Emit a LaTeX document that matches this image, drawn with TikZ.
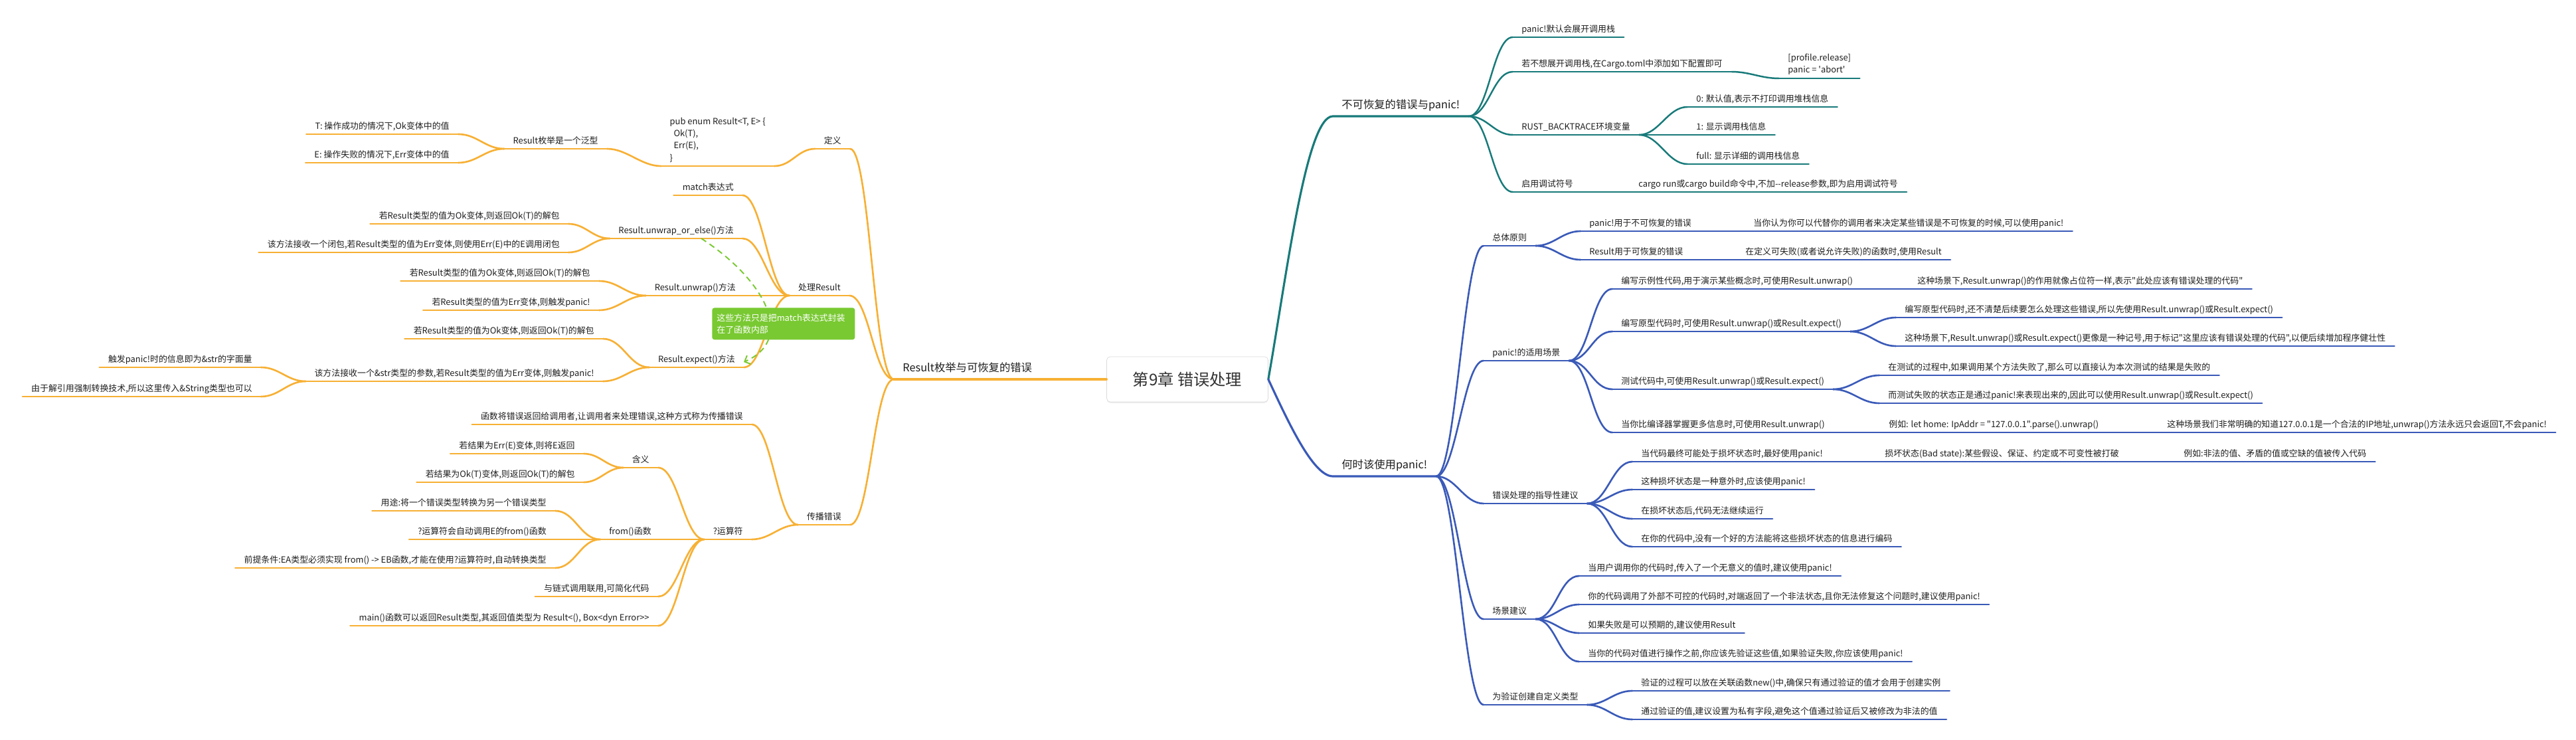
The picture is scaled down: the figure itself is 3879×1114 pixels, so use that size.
\documentclass[tikz,border=0pt]{standalone}
\usepackage{fontspec}
\setmainfont{Noto Sans CJK SC}[Ligatures=TeXOff]
\usepackage{xcolor}
\usepackage{tikz}
\usetikzlibrary{arrows.meta}
\usetikzlibrary{shadows}
\definecolor{branchorange}{RGB}{247,176,52}
\definecolor{branchteal}{RGB}{24,122,122}
\definecolor{branchblue}{RGB}{58,90,184}
\definecolor{noteGreen}{RGB}{121,201,50}
\definecolor{inkgray}{RGB}{30,30,30}
\newcommand{\mmfont}{\fontsize{7.35}{10.4}\selectfont}
\newcommand{\mmbigfont}{\fontsize{9.3}{12}\selectfont}
\newcommand{\mmtitlefont}{\fontsize{13.8}{16}\selectfont}

\begin{document}
\begin{tikzpicture}[x=0.02cm,y=-0.02cm,
    topic/.style={inner xsep=7.4pt, inner ysep=3pt, text height=6.5pt, text depth=1.3pt, font=\mmfont, text=inkgray},
    left node/.style={topic, anchor=south east},
    right node/.style={topic, anchor=south west},
    block node/.style={inner xsep=7.4pt, inner ysep=3pt, align=left, font=\mmfont, text=inkgray},
    main topic/.style={anchor=south west, inner xsep=7.4pt, inner ysep=4.5pt, text height=8.2pt, text depth=1.7pt, font=\mmbigfont, text=inkgray},
    center node/.style={draw=black!14, fill=white, rounded corners=3pt, minimum width=4.86cm, minimum height=1.36cm, font=\mmtitlefont, text=black!80, drop shadow={opacity=0.15, shadow xshift=0pt, shadow yshift=-1pt}},
    callout node/.style={anchor=north west, fill=noteGreen, rounded corners=2pt, text=white, font=\mmfont, align=left, text width=4.02cm, inner xsep=0.14cm, minimum height=0.96cm},
    lbranch/.style={out=180, in=0, max distance=0.6cm},
    rbranch/.style={out=0, in=180, max distance=0.6cm},
    orange line/.style={color=branchorange, line width=1.5pt, line cap=round, every edge/.style={draw, lbranch}},
    teal line/.style={color=branchteal, line width=1.4pt, line cap=round, every edge/.style={draw, rbranch}},
    blue line/.style={color=branchblue, line width=1.5pt, line cap=round, every edge/.style={draw, rbranch}},
    relation line/.style={draw=noteGreen, line width=1.1pt, dash pattern=on 5pt off 3.5pt, -{Straight Barb[length=4pt,width=8pt]}}]
    \useasboundingbox (0,0) rectangle (3879,1114);

    % Center
    \node[center node] (center) at (1788,571) {第9章 错误处理};

    % Left: Result
    \node[main topic] (res) at (1346,571) {Result枚举与可恢复的错误};
    \node[left node] (def) at (1280,224) {定义};
    \node[block node, anchor=south east] (enumdef) at (1166,250) {pub enum Result<T, E> \{\\\ \ Ok(T),\\\ \ Err(E),\\\}};
    \node[left node] (generic) at (914,224) {Result枚举是一个泛型};
    \node[left node] (tval) at (690,202) {T: 操作成功的情况下,Ok变体中的值};
    \node[left node] (eval) at (690,245) {E: 操作失败的情况下,Err变体中的值};
    \node[left node] (handle) at (1279,445) {处理Result};
    \node[left node] (matchexpr) at (1118,294) {match表达式};
    \node[left node] (orelse) at (1118,359) {Result.unwrap\_or\_else()方法};
    \node[left node] (orelseok) at (856,337) {若Result类型的值为Ok变体,则返回Ok(T)的解包};
    \node[left node] (orelseerr) at (856,380) {该方法接收一个闭包,若Result类型的值为Err变体,则使用Err(E)中的E调用闭包};
    \node[left node] (unwrap) at (1121,445) {Result.unwrap()方法};
    \node[left node] (unwrapok) at (902,423) {若Result类型的值为Ok变体,则返回Ok(T)的解包};
    \node[left node] (unwraperr) at (902,467) {若Result类型的值为Err变体,则触发panic!};
    \node[left node] (expect) at (1120,553) {Result.expect()方法};
    \node[left node] (expectok) at (908,510) {若Result类型的值为Ok变体,则返回Ok(T)的解包};
    \node[left node] (expectarg) at (908,574) {该方法接收一个\&str类型的参数,若Result类型的值为Err变体,则触发panic!};
    \node[left node] (strlit) at (393,553) {触发panic!时的信息即为\&str的字面量};
    \node[left node] (derefstr) at (393,597) {由于解引用强制转换技术,所以这里传入\&String类型也可以};
    \node[left node] (propagate) at (1280,790) {传播错误};
    \node[left node] (propdef) at (1132,639) {函数将错误返回给调用者,让调用者来处理错误,这种方式称为传播错误};
    \node[left node] (qop) at (1132,812) {?运算符};
    \node[left node] (meaning) at (991,704) {含义};
    \node[left node] (errret) at (879,683) {若结果为Err(E)变体,则将E返回};
    \node[left node] (okunwrap) at (879,726) {若结果为Ok(T)变体,则返回Ok(T)的解包};
    \node[left node] (fromfn) at (994,812) {from()函数};
    \node[left node] (fromuse) at (836,769) {用途:将一个错误类型转换为另一个错误类型};
    \node[left node] (fromauto) at (836,812) {?运算符会自动调用E的from()函数};
    \node[left node] (fromcond) at (836,855) {前提条件:EA类型必须实现 from() -> EB函数,才能在使用?运算符时,自动转换类型};
    \node[left node] (chain) at (991,898) {与链式调用联用,可简化代码};
    \node[left node] (mainret) at (991,942) {main()函数可以返回Result类型,其返回值类型为 Result<(), Box<dyn Error>>};

    % Right: panic!
    \node[main topic] (panic) at (2007,175) {不可恢复的错误与panic!};
    \node[right node] (unwind) at (2278,56) {panic!默认会展开调用栈};
    \node[right node] (nounwind) at (2278,108) {若不想展开调用栈,在Cargo.toml中添加如下配置即可};
    \node[block node, anchor=south west] (abortcfg) at (2679,118) {[profile.release]\\panic = 'abort'};
    \node[right node] (backtrace) at (2278,203) {RUST\_BACKTRACE环境变量};
    \node[right node] (bt0) at (2541,161) {0: 默认值,表示不打印调用堆栈信息};
    \node[right node] (bt1) at (2541,203) {1: 显示调用栈信息};
    \node[right node] (btfull) at (2541,247) {full: 显示详细的调用栈信息};
    \node[right node] (debugsym) at (2278,289) {启用调试符号};
    \node[right node] (cargorun) at (2454,289) {cargo run或cargo build命令中,不加--release参数,即为启用调试符号};

    % Right: when to panic
    \node[main topic] (when) at (2007,717) {何时该使用panic!};
    \node[right node] (principle) at (2234,370) {总体原则};
    \node[right node] (panicfor) at (2380,348) {panic!用于不可恢复的错误};
    \node[right node] (panicwhen) at (2627,348) {当你认为你可以代替你的调用者来决定某些错误是不可恢复的时候,可以使用panic!};
    \node[right node] (resultfor) at (2380,391) {Result用于可恢复的错误};
    \node[right node] (resultwhen) at (2615,391) {在定义可失败(或者说允许失败)的函数时,使用Result};
    \node[right node] (scenes) at (2234,543) {panic!的适用场景};
    \node[right node] (example) at (2428,435) {编写示例性代码,用于演示某些概念时,可使用Result.unwrap()};
    \node[right node] (placeholder) at (2874,435) {这种场景下,Result.unwrap()的作用就像占位符一样,表示"此处应该有错误处理的代码"};
    \node[right node] (proto) at (2428,499) {编写原型代码时,可使用Result.unwrap()或Result.expect()};
    \node[right node] (protoa) at (2855,478) {编写原型代码时,还不清楚后续要怎么处理这些错误,所以先使用Result.unwrap()或Result.expect()};
    \node[right node] (protob) at (2855,521) {这种场景下,Result.unwrap()或Result.expect()更像是一种记号,用于标记"这里应该有错误处理的代码",以便后续增加程序健壮性};
    \node[right node] (test) at (2428,586) {测试代码中,可使用Result.unwrap()或Result.expect()};
    \node[right node] (testa) at (2830,565) {在测试的过程中,如果调用某个方法失败了,那么可以直接认为本次测试的结果是失败的};
    \node[right node] (testb) at (2830,607) {而测试失败的状态正是通过panic!来表现出来的,因此可以使用Result.unwrap()或Result.expect()};
    \node[right node] (moreinfo) at (2428,651) {当你比编译器掌握更多信息时,可使用Result.unwrap()};
    \node[right node] (ipex) at (2831,651) {例如: let home: IpAddr = "127.0.0.1".parse().unwrap()};
    \node[right node] (ipsure) at (3250,651) {这种场景我们非常明确的知道127.0.0.1是一个合法的IP地址,unwrap()方法永远只会返回T,不会panic!};
    \node[right node] (guide) at (2234,758) {错误处理的指导性建议};
    \node[right node] (badstate) at (2458,695) {当代码最终可能处于损坏状态时,最好使用panic!};
    \node[right node] (baddef) at (2825,695) {损坏状态(Bad state):某些假设、保证、约定或不可变性被打破};
    \node[right node] (badex) at (3275,695) {例如:非法的值、矛盾的值或空缺的值被传入代码};
    \node[right node] (accident) at (2458,737) {这种损坏状态是一种意外时,应该使用panic!};
    \node[right node] (cannotrun) at (2458,781) {在损坏状态后,代码无法继续运行};
    \node[right node] (noencode) at (2458,823) {在你的代码中,没有一个好的方法能将这些损坏状态的信息进行编码};
    \node[right node] (advice) at (2234,932) {场景建议};
    \node[right node] (meaningless) at (2378,867) {当用户调用你的代码时,传入了一个无意义的值时,建议使用panic!};
    \node[right node] (external) at (2378,910) {你的代码调用了外部不可控的代码时,对端返回了一个非法状态,且你无法修复这个问题时,建议使用panic!};
    \node[right node] (expected) at (2378,953) {如果失败是可以预期的,建议使用Result};
    \node[right node] (validate) at (2378,996) {当你的代码对值进行操作之前,你应该先验证这些值,如果验证失败,你应该使用panic!};
    \node[right node] (customtype) at (2234,1061) {为验证创建自定义类型};
    \node[right node] (newfn) at (2458,1040) {验证的过程可以放在关联函数new()中,确保只有通过验证的值才会用于创建实例};
    \node[right node] (privfield) at (2458,1083) {通过验证的值,建议设置为私有字段,避免这个值通过验证后又被修改为非法的值};

    % Orange branch
    \begin{scope}[orange line]
        \draw[line width=1.9pt] (res.south west) -- (res.south east) -- (center.west);
        \foreach \n in {def,enumdef,generic,tval,eval,handle,matchexpr,orelse,orelseok,orelseerr,unwrap,unwrapok,unwraperr,expect,expectok,expectarg,strlit,derefstr,propagate,propdef,qop,meaning,errret,okunwrap,fromfn,fromuse,fromauto,fromcond,chain,mainret}
            \draw (\n.south west) -- (\n.south east);
        \path
        (res.south west)
        edge (def.south east)
        edge (handle.south east)
        edge (propagate.south east)
        (def.south west) edge (enumdef.south east)
        (enumdef.south west) edge (generic.south east)
        (generic.south west)
        edge (tval.south east)
        edge (eval.south east)
        (handle.south west)
        edge (matchexpr.south east)
        edge (orelse.south east)
        edge (unwrap.south east)
        edge (expect.south east)
        (orelse.south west)
        edge (orelseok.south east)
        edge (orelseerr.south east)
        (unwrap.south west)
        edge (unwrapok.south east)
        edge (unwraperr.south east)
        (expect.south west)
        edge (expectok.south east)
        edge (expectarg.south east)
        (expectarg.south west)
        edge (strlit.south east)
        edge (derefstr.south east)
        (propagate.south west)
        edge (propdef.south east)
        edge (qop.south east)
        (qop.south west)
        edge (meaning.south east)
        edge (fromfn.south east)
        edge (chain.south east)
        edge (mainret.south east)
        (meaning.south west)
        edge (errret.south east)
        edge (okunwrap.south east)
        (fromfn.south west)
        edge (fromuse.south east)
        edge (fromauto.south east)
        edge (fromcond.south east);
    \end{scope}

    % Teal branch
    \begin{scope}[teal line]
        \draw[line width=1.8pt] (center.east) to[out=80, in=180, in max distance=0.8cm] (panic.south west) -- (panic.south east);
        \foreach \n in {unwind,nounwind,abortcfg,backtrace,bt0,bt1,btfull,debugsym,cargorun}
            \draw (\n.south west) -- (\n.south east);
        \path
        (panic.south east)
        edge (unwind.south west)
        edge (nounwind.south west)
        edge (backtrace.south west)
        edge (debugsym.south west)
        (nounwind.south east) edge (abortcfg.south west)
        (backtrace.south east)
        edge (bt0.south west)
        edge (bt1.south west)
        edge (btfull.south west)
        (debugsym.south east) edge (cargorun.south west);
    \end{scope}

    % Blue branch
    \begin{scope}[blue line]
        \draw[line width=1.8pt] (center.east) to[out=-65, in=180, in max distance=0.6cm] (when.south west) -- (when.south east);
        \foreach \n in {principle,panicfor,panicwhen,resultfor,resultwhen,scenes,example,placeholder,proto,protoa,protob,test,testa,testb,moreinfo,ipex,ipsure,guide,badstate,baddef,badex,accident,cannotrun,noencode,advice,meaningless,external,expected,validate,customtype,newfn,privfield}
            \draw (\n.south west) -- (\n.south east);
        \path
        (when.south east)
        edge (principle.south west)
        edge (scenes.south west)
        edge (guide.south west)
        edge (advice.south west)
        edge (customtype.south west)
        (principle.south east)
        edge (panicfor.south west)
        edge (resultfor.south west)
        (panicfor.south east) edge (panicwhen.south west)
        (resultfor.south east) edge (resultwhen.south west)
        (scenes.south east)
        edge (example.south west)
        edge (proto.south west)
        edge (test.south west)
        edge (moreinfo.south west)
        (example.south east) edge (placeholder.south west)
        (proto.south east)
        edge (protoa.south west)
        edge (protob.south west)
        (test.south east)
        edge (testa.south west)
        edge (testb.south west)
        (moreinfo.south east) edge (ipex.south west)
        (ipex.south east) edge (ipsure.south west)
        (guide.south east)
        edge (badstate.south west)
        edge (accident.south west)
        edge (cannotrun.south west)
        edge (noencode.south west)
        (badstate.south east) edge (baddef.south west)
        (baddef.south east) edge (badex.south west)
        (advice.south east)
        edge (meaningless.south west)
        edge (external.south west)
        edge (expected.south west)
        edge (validate.south west)
        (customtype.south east)
        edge (newfn.south west)
        edge (privfield.south west);
    \end{scope}

    % Relation and note
    \draw[relation line] ([xshift=0.76cm]orelse.south) .. controls (1150,420) and (1200,510) .. ([yshift=0.16cm]expect.south east);
    \node[callout node] (note) at (1072,463) {这些方法只是把match表达式封装\\在了函数内部};

\end{tikzpicture}
\end{document}
